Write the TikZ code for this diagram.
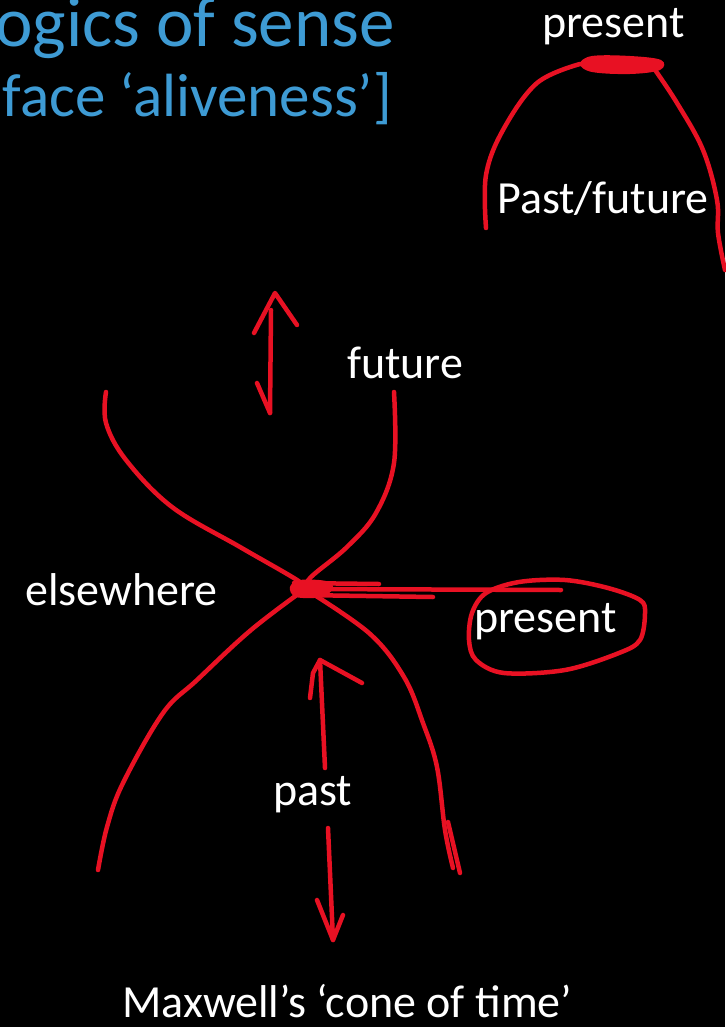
\documentclass[tikz,border=0pt]{standalone}
\usepackage{fontspec}
\setmainfont{Carlito}
\usetikzlibrary{arrows.meta}
\definecolor{ink}{HTML}{E81123}
\definecolor{titleblue}{HTML}{3E9BD4}
\definecolor{slidebg}{HTML}{000000}

\begin{document}
\begin{tikzpicture}[x=1pt,y=-1pt,
  label/.style={text=white,font=\fontsize{46}{50}\selectfont,inner sep=0pt,anchor=base west},
  headline/.style={text=titleblue,inner sep=0pt,anchor=base east},
  pen/.style={ink,line width=4.5pt,line cap=round,line join=round}]
  \fill[slidebg] (0,0) rectangle (725,1027);
  \useasboundingbox (0,0) rectangle (725,1027);

  \node[headline,font=\fontsize{71}{75}\selectfont] (head) at (395,47) {ogics of sense};
  \node[headline,font=\fontsize{61}{65}\selectfont] (subhead) at (392,117) {face ‘aliveness’]};

  % small sketch, top right
  \draw[pen] plot[smooth,tension=0.6] coordinates {(486,228) (486,175) (503,130) (537,83) (580,64)};
  \fill[ink] plot[smooth cycle,tension=0.6] coordinates {(580,64) (592,56) (630,56) (661,60) (660,70) (630,74) (592,72)};
  \draw[pen] plot[smooth,tension=0.6] coordinates {(653,67) (677,103) (703,150) (717,200) (718,233) (725,270)};
  \node[label] (now) at (542,38) {present};
  \node[label] (pastfut) at (497,213) {Past/future};

  % the cone
  \coordinate (apex) at (305,589);
  \draw[pen] plot[smooth,tension=0.6] coordinates {(106,392) (106,423) (126,460) (172,507) (240,547) (297,580) (apex)};
  \draw[pen] plot[smooth,tension=0.6] coordinates {(394,392) (394,463) (376,513) (347,547) (311,577) (apex)};
  \draw[pen] plot[smooth,tension=0.6] coordinates {(apex) (251,630) (197,680) (163,713) (123,783) (107,827) (98,870)};
  \draw[pen] plot[smooth,tension=0.6] coordinates {(apex) (369,633) (404,677) (423,723) (437,767) (445,830) (453,868)};
  \draw[pen] (448,822) -- (460,873);
  \fill[ink] plot[smooth cycle,tension=0.6] coordinates {(290,587) (300,580) (326,581) (333,588) (322,597) (296,597)};
  \draw[pen] (apex) -- (561,590);
  \draw[pen] (294,583) -- (379,584);
  \draw[pen] (300,595) -- (433,597);
  \draw[pen] plot[smooth cycle,tension=0.55] coordinates {(519,582) (565,580) (608,588) (640,600) (645,613) (640,640) (619,653) (565,670) (504,673) (476,660) (469,640) (472,613) (486,593)};

  % arrows
  \draw[pen] (271,310) -- (270,413);
  \draw[pen] (254,333) -- (275,293) -- (297,325);
  \draw[pen] (257,383) -- (270,413);
  \draw[pen] (325,768) -- (320,660);
  \draw[pen] (310,698) -- (313,673) -- (320,660) -- (362,683);
  \draw[pen] (328,828) -- (333,940);
  \draw[pen] (317,900) -- (333,940) -- (343,915);

  \node[label] (fut) at (347,378) {future};
  \node[label] (else) at (25,605) {elsewhere};
  \node[label] (pres) at (474,632) {present};
  \node[label] (past) at (273,805) {past};
  \node[label] (caption) at (122,1017) {Maxwell’s ‘cone of time’};
\end{tikzpicture}
\end{document}
